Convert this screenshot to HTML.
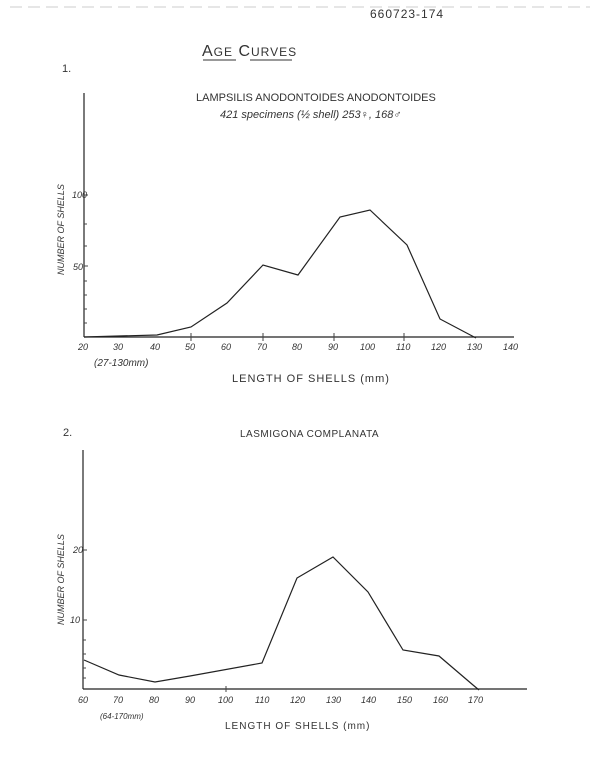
<!DOCTYPE html>
<html><head><meta charset="utf-8"><style>
html,body{margin:0;padding:0;background:#fff}
svg{display:block}
text{font-family:"Liberation Sans",sans-serif;fill:#333}
</style></head><body>
<svg width="600" height="775" viewBox="0 0 600 775" xmlns="http://www.w3.org/2000/svg">
<rect width="600" height="775" fill="#fff"/>
<line x1="10" y1="7" x2="590" y2="7" stroke="#ccc" stroke-width="1" stroke-dasharray="12,6"/>
<text x="370" y="18" font-size="12" letter-spacing="1">660723-174</text>
<text x="202" y="56" font-size="16" letter-spacing="1">A<tspan font-size="12">GE</tspan> C<tspan font-size="12">URVES</tspan></text>
<line x1="203" y1="60" x2="236" y2="60" stroke="#333"/><line x1="250" y1="60" x2="292" y2="60" stroke="#333"/>
<text x="62" y="72" font-size="11">1.</text>

<!-- chart 1 -->
<g stroke="#222" stroke-width="1.2" fill="none">
<line x1="84" y1="93" x2="84" y2="337"/>
<line x1="84" y1="337" x2="514" y2="337"/>
<polyline points="84,337 119,336 157,335 191,327 227,303 263,265 298,275 340,217 370,210 407,245 440,319 476,338"/>
</g>
<g stroke="#444" stroke-width="1">
<line x1="84" y1="195" x2="88" y2="195"/><line x1="84" y1="266" x2="88" y2="266"/>
<line x1="84" y1="224" x2="87" y2="224"/><line x1="84" y1="246" x2="87" y2="246"/><line x1="84" y1="281" x2="87" y2="281"/><line x1="84" y1="295" x2="87" y2="295"/><line x1="84" y1="309" x2="87" y2="309"/><line x1="84" y1="323" x2="87" y2="323"/>
<line x1="191" y1="333" x2="191" y2="341"/><line x1="263" y1="333" x2="263" y2="341"/><line x1="334" y1="333" x2="334" y2="341"/><line x1="404" y1="333" x2="404" y2="341"/>
</g>
<g font-size="9" font-style="italic">
<text x="72" y="198">100</text><text x="73" y="270">50</text>
<text x="78" y="350">20</text><text x="113" y="350">30</text><text x="150" y="350">40</text><text x="185" y="350">50</text><text x="221" y="350">60</text><text x="257" y="350">70</text><text x="292" y="350">80</text><text x="328" y="350">90</text><text x="360" y="350">100</text><text x="396" y="350">110</text><text x="431" y="350">120</text><text x="467" y="350">130</text><text x="503" y="350">140</text>
<text x="94" y="366" font-size="10">(27-130mm)</text>
</g>
<text x="232" y="382" font-size="11" letter-spacing="1">LENGTH OF SHELLS (mm)</text>
<text x="0" y="0" font-size="9" font-style="italic" transform="translate(64,275) rotate(-90)">NUMBER OF SHELLS</text>
<text x="196" y="101" font-size="11">LAMPSILIS ANODONTOIDES ANODONTOIDES</text>
<text x="220" y="118" font-size="11" font-style="italic">421 specimens (½ shell) 253♀, 168♂</text>

<!-- chart 2 -->
<text x="63" y="436" font-size="11">2.</text>
<text x="240" y="437" font-size="10" letter-spacing="0.5">LASMIGONA COMPLANATA</text>
<g stroke="#222" stroke-width="1.2" fill="none">
<line x1="83" y1="450" x2="83" y2="689"/>
<line x1="83" y1="689" x2="527" y2="689"/>
<polyline points="84,660 119,675 155,682 190,676 262,663 297,578 333,557 368,592 403,650 439,656 473,685 479,690"/>
</g>
<g stroke="#444" stroke-width="1">
<line x1="83" y1="550" x2="87" y2="550"/><line x1="83" y1="620" x2="87" y2="620"/>
<line x1="83" y1="640" x2="86" y2="640"/><line x1="83" y1="654" x2="86" y2="654"/><line x1="83" y1="668" x2="86" y2="668"/><line x1="83" y1="678" x2="86" y2="678"/>
<line x1="226" y1="686" x2="226" y2="692"/>
</g>
<g font-size="9" font-style="italic">
<text x="73" y="553">20</text><text x="70" y="623">10</text>
<text x="78" y="703">60</text><text x="113" y="703">70</text><text x="149" y="703">80</text><text x="185" y="703">90</text><text x="218" y="703">100</text><text x="255" y="703">110</text><text x="290" y="703">120</text><text x="326" y="703">130</text><text x="361" y="703">140</text><text x="397" y="703">150</text><text x="433" y="703">160</text><text x="468" y="703">170</text>
<text x="100" y="719" font-size="8">(64-170mm)</text>
</g>
<text x="225" y="729" font-size="10" letter-spacing="1">LENGTH OF SHELLS (mm)</text>
<text x="0" y="0" font-size="9" font-style="italic" transform="translate(64,625) rotate(-90)">NUMBER OF SHELLS</text>
</svg>
</body></html>
